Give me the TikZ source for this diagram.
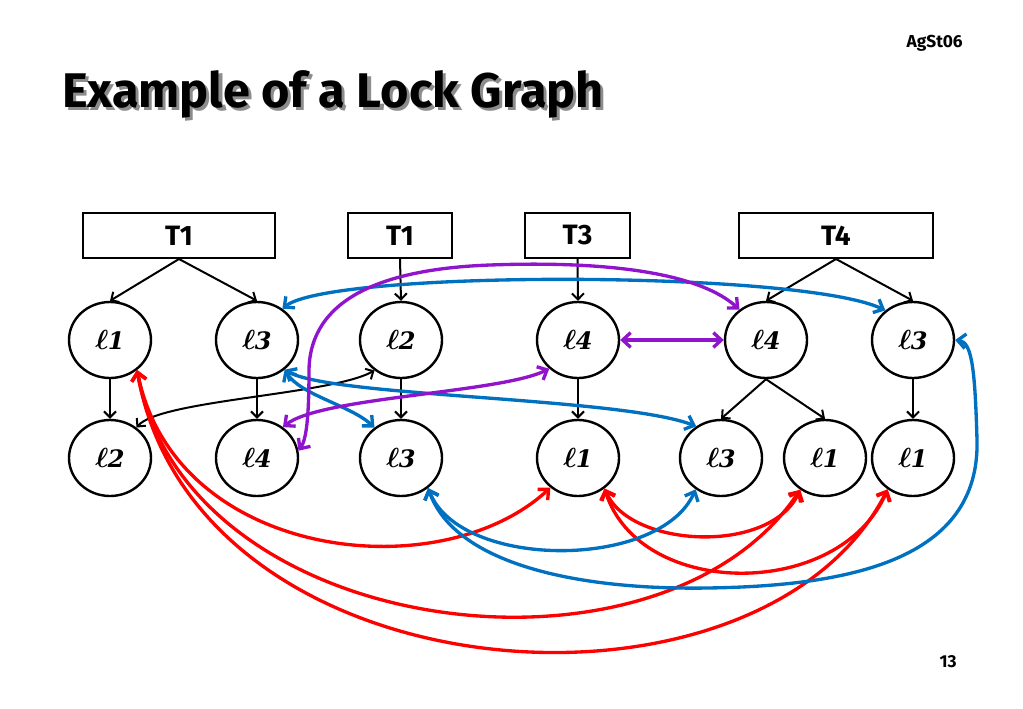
\documentclass[tikz,border=0pt]{standalone}
\usepackage{fontspec}
\usetikzlibrary{arrows.meta,shapes.geometric}
\newfontfamily\cfont{Fira Sans}
\newfontfamily\lfont{DejaVu Serif}
\definecolor{myred}{RGB}{255,0,0}
\definecolor{myblue}{RGB}{0,112,192}
\definecolor{mypurple}{RGB}{145,20,205}
\newcommand\lk[1]{{\fontsize{22}{24}\selectfont\boldmath$\ell$}\kern-0.5pt{\lfont\bfseries\itshape\fontsize{18}{22}\selectfont #1}}
\tikzset{
  lnode/.style={ellipse, draw, line width=1.8pt, minimum width=61.5pt, minimum height=57pt, inner sep=0pt},
  tbox/.style={draw, line width=1.5pt, minimum height=33.75pt, inner sep=0pt, font=\cfont\bfseries\fontsize{21}{25}\selectfont},
  hier/.style={line width=1.5pt, -{Straight Barb[length=4.5pt,width=9pt]}},
  blk2/.style={line width=1.5pt, {Straight Barb[length=4.5pt,width=9pt]}-{Straight Barb[length=4.5pt,width=9pt]}},
  conf/.style={line width=2.5pt, {Straight Barb[length=6pt,width=11pt]}-{Straight Barb[length=6pt,width=11pt]}},
  redc/.style={conf, draw=myred},
  bluec/.style={conf, draw=myblue},
  purc/.style={conf, draw=mypurple}
}
\begin{document}
\begin{tikzpicture}[x=0.75pt,y=-0.75pt]
\useasboundingbox (0,0) rectangle (1023,708);
% texts
\node[anchor=base west, inner sep=0, font=\cfont\bfseries\fontsize{36.5}{40}\selectfont] (title) at (62,107) {\makebox[0pt][l]{\raisebox{-2.3pt}{\hspace{2.3pt}\color{black!45}Example of a Lock Graph}}Example of a Lock Graph};
\node[anchor=base east, inner sep=0, font=\cfont\bfseries\fontsize{13}{15}\selectfont] (tag) at (963,47) {AgSt06};
\node[anchor=base east, inner sep=0, font=\cfont\bfseries\fontsize{13}{15}\selectfont] (pnum) at (957,667) {13};
% boxes
\node[tbox, minimum width=144pt] (t1) at (179,235.5) {T1};
\node[tbox, minimum width=78pt] (t1b) at (400,235.5) {T1};
\node[tbox, minimum width=78.75pt] (t3) at (577.5,235.5) {T3};
\node[tbox, minimum width=145.5pt] (t4) at (836,235.5) {T4};
% row 1
\node[lnode] (a1) at (110,340) {\lk{1}};
\node[lnode] (a3) at (257,340) {\lk{3}};
\node[lnode] (a2) at (401,340) {\lk{2}};
\node[lnode] (a4) at (578,340) {\lk{4}};
\node[lnode] (b4) at (766,340) {\lk{4}};
\node[lnode] (b3) at (913,340) {\lk{3}};
% row 2
\node[lnode] (c2) at (110,458) {\lk{2}};
\node[lnode] (c4) at (257,458) {\lk{4}};
\node[lnode] (c3) at (401,458) {\lk{3}};
\node[lnode] (c1) at (578,458) {\lk{1}};
\node[lnode] (d3) at (721,458) {\lk{3}};
\node[lnode] (d1) at (825,458) {\lk{1}};
\node[lnode] (e1) at (913,458) {\lk{1}};
% hierarchy
\draw[hier] (t1.south) -- (a1.north);
\draw[hier] (t1.south) -- (a3.north);
\draw[hier] (t1b.south) -- (a2.north);
\draw[hier] (t3.south) -- (a4.north);
\draw[hier] (t4.south) -- (b4.north);
\draw[hier] (t4.south) -- (b3.north);
\draw[hier] (a1.south) -- (c2.north);
\draw[hier] (a3.south) -- (c4.north);
\draw[hier] (a2.south) -- (c3.north);
\draw[hier] (a4.south) -- (c1.north);
\draw[hier] (b4.south) -- (d3.north);
\draw[hier] (b4.south) -- (d1.north);
\draw[hier] (b3.south) -- (e1.north);
% black conflict
\draw[blk2] (c2.49) .. controls (160,400) and (330,395) .. (a2.-131);
% red
\draw[redc] (a1.-48) .. controls (175,560) and (440,590) .. (c1.-133);
\draw[redc] (a1.-48) .. controls (185,640) and (660,700) .. (d1.-128);
\draw[redc] (a1.-48) .. controls (195,700) and (760,740) .. (e1.-129);
\draw[redc] (c1.-49) .. controls (630,548) and (770,555) .. (d1.-128);
\draw[redc] (c1.-49) .. controls (640,600) and (840,600) .. (e1.-129);
% blue
\draw[bluec] (a3.51) .. controls (330,270) and (800,270) .. (b3.133);
\draw[bluec] (a3.-47) .. controls (330,397) and (620,397) .. (d3.128);
\draw[bluec] (a3.-47) .. controls (300,395) and (350,405) .. (c3.131);
\draw[bluec] (c3.-48) .. controls (460,570) and (660,570) .. (d3.-129);
\coordinate (bb1) at (707,588);
\coordinate (bb2) at (977,440);
\draw[bluec] (c3.-48) .. controls (455,565) and (580,590) .. (bb1) .. controls (850,586) and (980,560) .. (bb2) .. controls (975,370) and (972,342) .. (b3.east);
% purple
\coordinate (pp1) at (490,265);
\coordinate (pp2) at (309,370);
\draw[purc] (b4.131) .. controls (690,265) and (570,262) .. (pp1) .. controls (380,269) and (310,300) .. (pp2) .. controls (309,420) and (306,440) .. (c4.10);
\draw[purc] (c4.50) .. controls (320,397) and (500,393) .. (a4.-135);
\draw[purc] (a4.east) -- (b4.west);
\end{tikzpicture}
\end{document}
